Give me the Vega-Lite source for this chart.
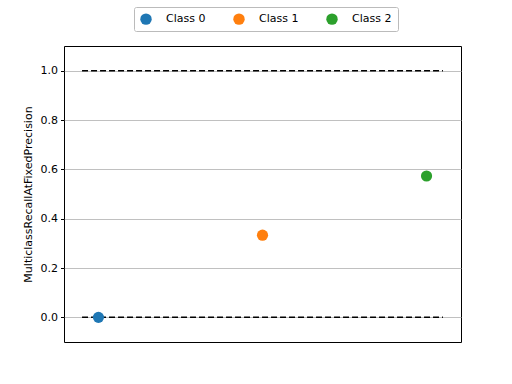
{
  "$schema": "https://vega.github.io/schema/vega-lite/v6.json",
  "width": 397,
  "height": 296,
  "autosize": {"type": "none"},
  "padding": {"left": 64, "top": 46, "right": 51, "bottom": 42},
  "background": "white",
  "config": {
    "view": {"stroke": "black", "strokeWidth": 1},
    "font": "DejaVu Sans"
  },
  "datasets": {
    "points": [
      {"x": 0, "value": 0.0, "cls": "Class 0"},
      {"x": 1, "value": 0.333, "cls": "Class 1"},
      {"x": 2, "value": 0.573, "cls": "Class 2"}
    ],
    "lines": [
      {"x0": -0.1, "x1": 2.1, "y": 0.0},
      {"x0": -0.1, "x1": 2.1, "y": 1.0}
    ]
  },
  "layer": [
    {
      "data": {"name": "lines"},
      "mark": {"type": "rule", "color": "black", "strokeDash": [6, 3], "strokeWidth": 1.5},
      "encoding": {
        "x": {"field": "x0", "type": "quantitative", "scale": {"domain": [-0.21, 2.21], "nice": false, "zero": false}, "axis": null},
        "x2": {"field": "x1"},
        "y": {"field": "y", "type": "quantitative", "scale": {"domain": [-0.1, 1.1], "nice": false, "zero": false},
          "axis": {"title": "MulticlassRecallAtFixedPrecision", "titleFontSize": 11, "titleFontWeight": "normal", "titleColor": "black", "titlePadding": 7, "values": [0, 0.2, 0.4, 0.6, 0.8, 1.0], "format": ".1f", "labelFontSize": 11, "labelColor": "black", "tickColor": "black", "tickSize": 3.5, "labelPadding": 3, "domain": false, "grid": true, "gridColor": "#b0b0b0", "gridWidth": 0.8}}
      }
    },
    {
      "data": {"name": "points"},
      "mark": {"type": "circle", "size": 125, "opacity": 1},
      "encoding": {
        "x": {"field": "x", "type": "quantitative", "scale": {"domain": [-0.21, 2.21], "nice": false, "zero": false}, "axis": null},
        "y": {"field": "value", "type": "quantitative"},
        "color": {
          "field": "cls", "type": "nominal",
          "scale": {"domain": ["Class 0", "Class 1", "Class 2"], "range": ["#1f77b4", "#ff7f0e", "#2ca02c"]},
          "legend": {
            "title": null, "orient": "none", "legendX": 70, "legendY": -39, "direction": "horizontal",
            "symbolType": "circle", "symbolSize": 130, "symbolStrokeWidth": 0, "labelFontSize": 11, "labelColor": "black",
            "labelOffset": 14, "columnPadding": 27, "padding": 6, "fillColor": "white", "strokeColor": "#bbbbbb", "cornerRadius": 2
          }
        }
      }
    }
  ]
}
